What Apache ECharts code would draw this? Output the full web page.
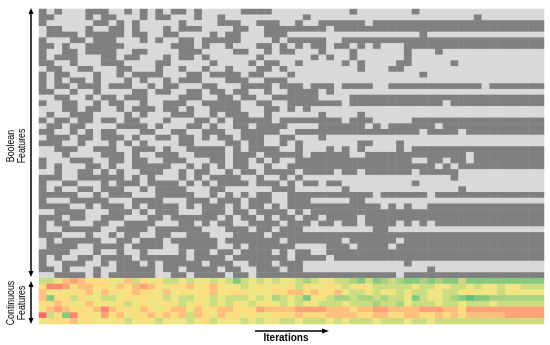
<!DOCTYPE html>
<html>
<head>
<meta charset="utf-8">
<title>Feature selection heatmap</title>
<style>
  * { margin: 0; padding: 0; }
  body { background: #fff; }
  #main { width: 550px; height: 345px; }
</style>
</head>
<body>
<div id="main"></div>
<script src="https://cdn.jsdelivr.net/npm/echarts@6/dist/echarts.min.js"></script>
<script>
// boolean features: one string per feature, one char per iteration (1 = selected / dark)
// left block = iterations 0-32, right block = iterations 33-64
var boolRows = [
  '1010001110 0101010110 1000001111 000|0000000 1 0000000 1 0000000000 000000',
  '1100001011 0001011000 1001000000 000|0 1 0000000000 0000000000 0 1 00000000',
  '1000000110 1010000010 0001110011 100|1 00 111111 0 1111111111 1111111111 11',
  '0110001001 1010001011 1000011001 111|1111 0 1111111111 1111111111 1111111',
  '0111101111 1011001100 0010110001 110|0000000000 000000 1 0000000000 00000',
  '1000110111 0001010011 0111110000 101|1111 00 1111111111 1111111111 111111',
  '1101001111 1000000111 0100100011 010|1 0 11 0 11 0 1 0 1 000 1111 1111111111 1111',
  '1001101111 0011000011 1000011001 011|000 1 000 1 000000 1 000 1 0000000000 000',
  '1011100011 0110001011 0100000010 000|00 1 0 1 00 1 000000 1 0000000000 0000000',
  '1100100011 1000011000 0010000101 100|1 00000 1 0 1 0000 11 00000 1 0000000000 0',
  '0110011000 1100010010 0100100011 010|00000000 1 000 11 0000000000 00000000',
  '1011000100 1011110001 1011110110 001|0000000000 000000 1 0000000000 00000',
  '1010110100 0101001011 1000111001 110|0000000000 0000000000 0000000000 00',
  '1011011101 1100101100 0110001111 011|1 0 111 0 1111 00 1111111111 11 0 1111111',
  '1100100100 0011011001 1011011001 001|111 0 1 0000000000 0000000000 0000000',
  '0011001011 0111000011 1001101100 111|111 0000 1111111111 1111111111 11111',
  '1001100101 1001001110 0111110011 001|111111 0 1111111111 11 0 1111111111 11',
  '0001101100 1011101101 0011110001 101|0 1 0000000000 0000000000 0000000000',
  '0100111000 0101000111 0010111001 000|000 1 0000 1 0000000000 0000000000 000',
  '1011011011 0110001000 1101011111 011|111111 0 111 00000 1111111111 1111111',
  '0110110000 1111010001 1010011011 110|000 111111 0 1 0 111111 0 1111111111 111',
  '1100101011 0001100110 0111001111 100|1111111111 111111 0 1111 0 1111111111',
  '0111011011 1010011011 0101101110 011|000 1 0000000000 0000000000 00000000',
  '1110010001 0101000011 0000110110 010|1 0000000 11 000 1 0000000000 00000000',
  '0011100111 0011101001 1111010111 100|1 000 1 0 1 0 1 0000 1 0 1111111111 1111111',
  '0001000011 1010011100 1111011101 111|1 0 11111 00 1111111111 111 0 111111111',
  '1000111001 1011001110 0011011010 100|1111111111 11111 00 11 0 11 0 111111111',
  '1010001101 0011111001 0101011001 001|1111111111 11111111 0 1 0 1111111111 1',
  '0010011010 1001110010 1100101101 111|0 1111 0 11 0 111111 0 11111 0000000000 0',
  '1110011111 1010100010 1011110010 010|1 0000000000 000000000 1 0000000000 0',
  '1001100010 1110111101 0101111011 101|0 11 0 11 000000000 1 0000000000 000000',
  '1010011011 1001011110 0011000000 111|000000 1 0000000000 0000 1 0000000000',
  '1111100101 1100011111 0010101011 001|1111111111 0 111111 0 1111111111 1111',
  '1000111110 0011110001 1101110111 001|11 00000 11 0000000000 0000000000 000',
  '1111001011 1010111101 0111010110 101|1111111111 1 0 1 0 1 00 1111111111 11111',
  '0011110001 1101011100 0111011011 110|1 0 1111111111 1111111111 1111111111',
  '1110110011 1000110111 1110101101 011|0 11 0 1111 0 1111111111 1111111111 111',
  '1011000110 0111100011 0101100111 101|11 0 11 0 11 0 1111 0 1 0 1 0 1111111111 1111',
  '1001111100 1111011111 1000111011 011|1 000000000 11 0000000000 0000000000',
  '1110001001 0110011001 1100011110 111|1111111111 1111111111 1111111111 11',
  '0101111100 1101110111 1110111111 101|111111 0 111111 0 1111111111 11111111',
  '0111100111 1011110011 1110010111 111|0000 111 0 1111 0 1111111111 111111111',
  '1111000100 1001000010 1101101111 010|11 00 1111111111 1111111111 11111111',
  '1010011011 1101111110 1111011111 110|1111 0 1111111111 1111111111 1111111',
  '1001110010 1110101111 1011100111 011|1 0000000000 000 1 0000000000 0000000',
  '1101000100 1111101101 1110110011 101|1 0000000000 000000 1 0000000000 0000',
  '0011110101 1111100110 1111011011 111|1111111111 111 0 1111111111 11111111'
];

// continuous features: 0 = red (low) ... 9 = green (high)
var contRows = [
  '66532 34445 53645 46656 55656 86565 65567 65566 78687 67887 87886 88888 88888',
  '41124 33445 34323 45443 54345 56545 45464 55456 54566 66656 65566 56556 55666',
  '35454 43534 54344 53545 44354 44555 44334 34435 66565 56566 55665 45556 55555',
  '38446 45566 54545 46566 55656 66565 76568 55677 67767 66586 55678 98877 77777',
  '44345 53545 46545 54565 45656 45654 56565 56665 66676 67566 65665 66656 66666',
  '53234 44313 44534 54335 34433 44423 33322 22333 43322 33332 22334 22222 22222',
  '06481 44524 35443 43436 34534 45455 44434 44333 34433 44334 43434 33333 22222',
  '54443 54555 46545 65556 54655 56565 56656 66565 66656 66566 56666 66666 66666'
];

var nIter = 65;
var iterations = [];
for (var i = 0; i < nIter; i++) iterations.push(i + 1);
var features = [];
for (var r = 0; r < boolRows.length + contRows.length; r++) features.push('f' + r);

function clean(s) {
  return s.replace(/[ |]/g, '').padEnd(nIter, '0').slice(0, nIter);
}

var boolData = [];
boolRows.forEach(function (row, y) {
  var s = clean(row);
  for (var x = 0; x < nIter; x++) boolData.push([x, y, +s[x]]);
});
var contData = [];
contRows.forEach(function (row, k) {
  var s = clean(row);
  for (var x = 0; x < nIter; x++) contData.push([x, boolRows.length + k, +s[x]]);
});

var myChart = echarts.init(document.getElementById('main'));

function vArrow(x, y1, y2) {
  return [
    { type: 'line', shape: { x1: x, y1: y1 + 4, x2: x, y2: y2 - 4 }, style: { stroke: '#000', lineWidth: 1.5 } },
    { type: 'polygon', shape: { points: [[x, y1], [x - 2.5, y1 + 6], [x + 2.5, y1 + 6]] }, style: { fill: '#000' } },
    { type: 'polygon', shape: { points: [[x, y2], [x - 2.5, y2 - 6], [x + 2.5, y2 - 6]] }, style: { fill: '#000' } }
  ];
}

// narrow side labels: squeeze along the text direction
var sideFont = { fontSize: 11, lineHeight: 11, fontFamily: 'Liberation Sans, Arial', fill: '#000', align: 'center', verticalAlign: 'middle' };

var graphics = []
  .concat(vArrow(31, 8, 277))
  .concat(vArrow(31, 281, 324))
  .concat([
    { type: 'line', shape: { x1: 255, y1: 331, x2: 323, y2: 331 }, style: { stroke: '#000', lineWidth: 1.5 } },
    { type: 'polygon', shape: { points: [[329, 331], [322, 328.5], [322, 333.5]] }, style: { fill: '#000' } },
    { type: 'text', x: 286, y: 338, style: { text: 'Iterations', fontSize: 10, fontWeight: 'bold', fontFamily: 'Liberation Sans, Arial', fill: '#000', align: 'center', verticalAlign: 'middle' } },
    { type: 'text', x: 16, y: 146, rotation: Math.PI / 2, scaleX: 0.8, style: Object.assign({ text: 'Boolean\nFeatures' }, sideFont) },
    { type: 'text', x: 16, y: 303, rotation: Math.PI / 2, scaleX: 0.8, style: Object.assign({ text: 'Continuous\nFeatures' }, sideFont) }
  ]);

var option = {
  animation: false,
  grid: { left: 39, right: 6, top: 9, bottom: 21 },
  xAxis: { type: 'category', data: iterations, show: false },
  yAxis: { type: 'category', data: features, inverse: true, show: false },
  visualMap: [
    {
      type: 'piecewise', show: false, seriesIndex: 0, dimension: 2,
      pieces: [{ value: 0, color: '#d9d9d9' }, { value: 1, color: '#808080' }]
    },
    {
      type: 'continuous', show: false, seriesIndex: 1, dimension: 2, min: 0, max: 9,
      inRange: { color: ['#f8696b', '#ffeb84', '#63be7b'] }
    }
  ],
  series: [
    { type: 'heatmap', data: boolData, emphasis: { disabled: true }, progressive: 0 },
    { type: 'heatmap', data: contData, emphasis: { disabled: true }, progressive: 0 }
  ],
  graphic: graphics
};
myChart.setOption(option);
</script>
</body>
</html>
